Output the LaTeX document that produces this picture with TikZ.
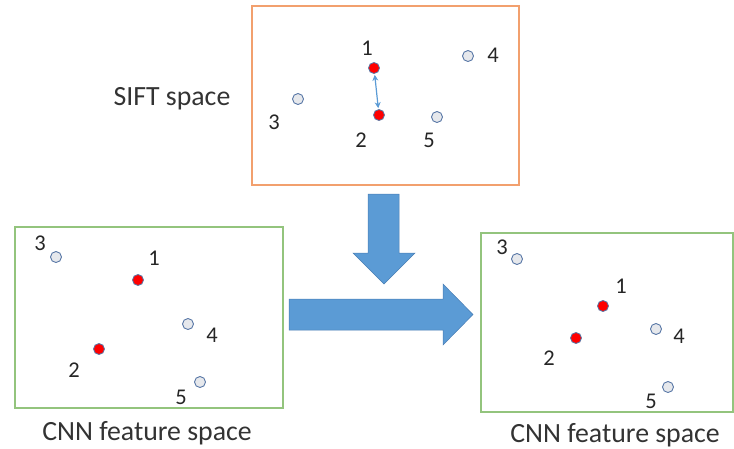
\documentclass[tikz,border=0pt]{standalone}
\usepackage{fontspec}
\usetikzlibrary{arrows.meta}
\setmainfont{Carlito}
\definecolor{sbox}{HTML}{F2A06E}
\definecolor{cbox}{HTML}{93C47D}
\definecolor{arrfill}{HTML}{5B9BD5}
\definecolor{arrline}{HTML}{4A7EB5}
\definecolor{ptline}{HTML}{5877A6}
\definecolor{ptfill}{HTML}{E6E8EC}
\begin{document}
\begin{tikzpicture}[x=1pt,y=-1pt,
  spacebox/.style={line width=1.3pt},
  pt/.style={circle,draw=ptline,fill=ptfill,line width=0.9pt,minimum size=11pt,inner sep=0pt},
  hot/.style={circle,draw=ptline,fill=red,line width=0.8pt,minimum size=11pt,inner sep=0pt},
  num/.style={font=\fontsize{22.5}{22.5}\selectfont,inner sep=0pt,text=black!85},
  spacecaption/.style={font=\fontsize{27.8}{27.8}\selectfont,inner sep=0pt,anchor=base,text=black!80},
  bigarrow/.style={fill=arrfill,draw=arrline,line width=0.5pt,line join=miter}]
\useasboundingbox (0,0) rectangle (734,448);

% SIFT space
\draw[spacebox,draw=sbox] (252,6) rectangle (519,185);
\node[spacecaption] (siftcap) at (172,105) {SIFT space};
\node[hot] (s1) at (374,68) {};
\node[hot] (s2) at (379,115) {};
\node[pt] (s3) at (298,99) {};
\node[pt] (s4) at (468,56) {};
\node[pt] (s5) at (437,117) {};
\node[num] (sl1) at (367,48) {1};
\node[num] (sl2) at (361,140) {2};
\node[num] (sl3) at (274,122) {3};
\node[num] (sl4) at (493,55) {4};
\node[num] (sl5) at (429,140) {5};
\draw[arrfill,line width=1.2pt,{Stealth[length=6pt,width=6pt]}-{Stealth[length=6pt,width=6pt]},shorten <=1pt,shorten >=1pt]
  (s1) -- (s2);

% CNN feature space, before
\draw[spacebox,draw=cbox] (15,227) rectangle (283,408);
\node[spacecaption] (cnncapa) at (147,440) {CNN feature space};
\node[hot] (a1) at (138,280) {};
\node[hot] (a2) at (99,349) {};
\node[pt] (a3) at (56,257) {};
\node[pt] (a4) at (188,324) {};
\node[pt] (a5) at (200,382) {};
\node[num] (al1) at (154,258) {1};
\node[num] (al2) at (74,370) {2};
\node[num] (al3) at (40,243) {3};
\node[num] (al4) at (212,335) {4};
\node[num] (al5) at (181,397) {5};

% CNN feature space, after
\draw[spacebox,draw=cbox] (481,233) rectangle (733,412);
\node[spacecaption] (cnncapb) at (615,442) {CNN feature space};
\node[hot] (b1) at (603,306) {};
\node[hot] (b2) at (576,338) {};
\node[pt] (b3) at (517,259) {};
\node[pt] (b4) at (656,329) {};
\node[pt] (b5) at (668,387) {};
\node[num] (bl1) at (621,286) {1};
\node[num] (bl2) at (549,358) {2};
\node[num] (bl3) at (502,247) {3};
\node[num] (bl4) at (679,336) {4};
\node[num] (bl5) at (651,401) {5};

% block arrows
\draw[bigarrow] (368,194) -- (399,194) -- (399,253) -- (415,253) -- (384,284)
  -- (353,253) -- (368,253) -- cycle;
\draw[bigarrow] (289,299) -- (443,299) -- (443,284) -- (473,314.5) -- (443,345)
  -- (443,330) -- (289,330) -- cycle;
\end{tikzpicture}
\end{document}
